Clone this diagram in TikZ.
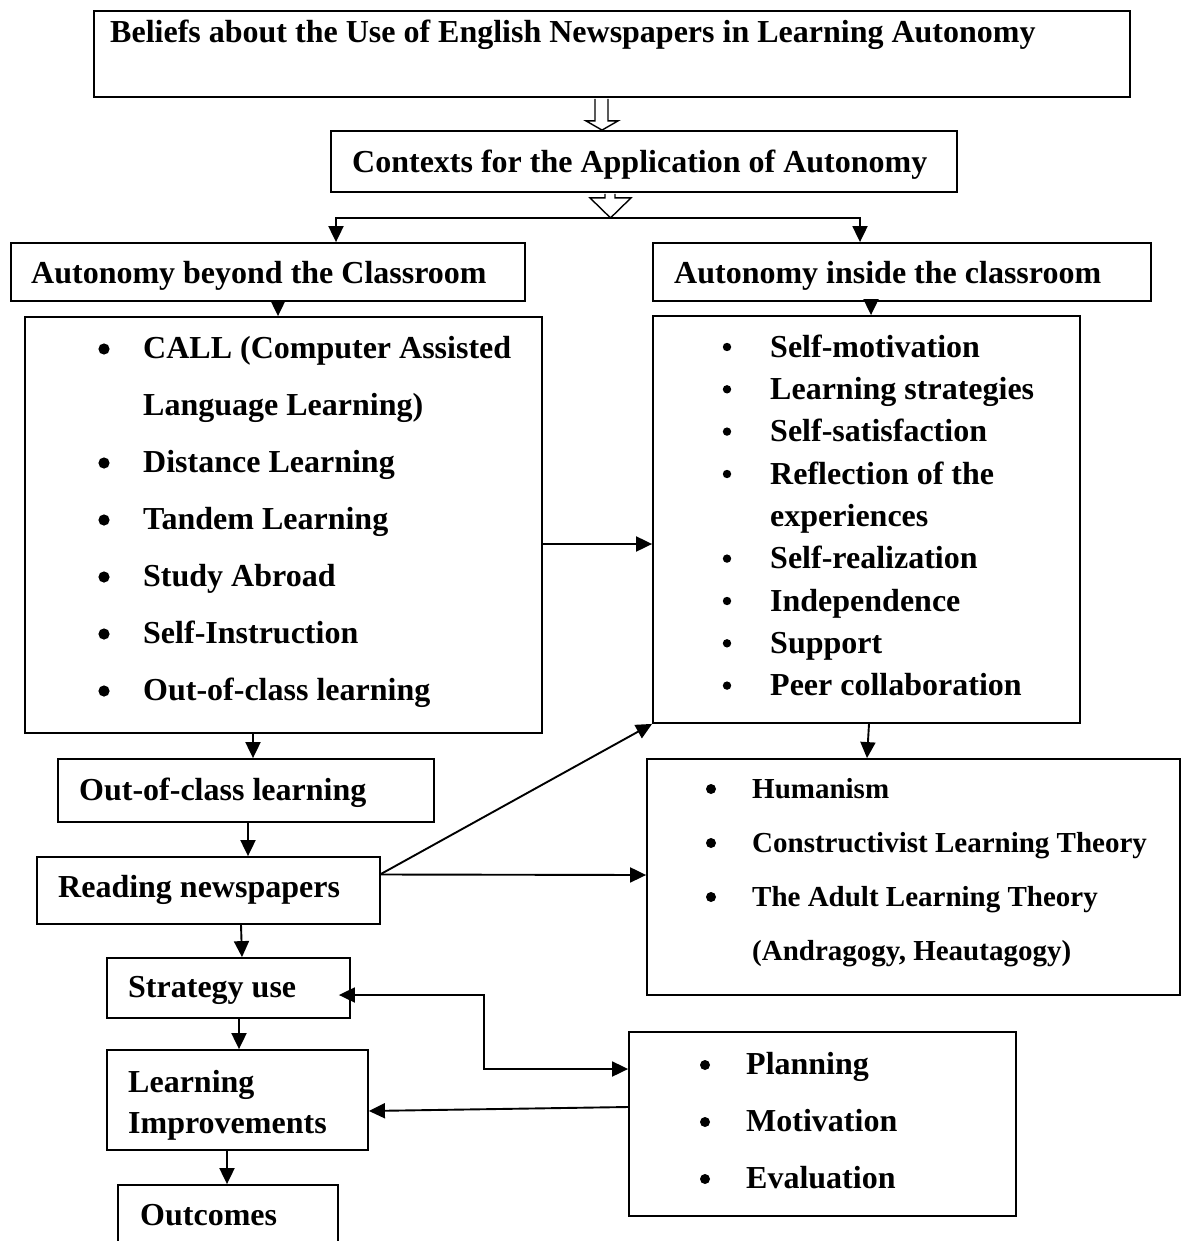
\documentclass[tikz,border=0pt]{standalone}
\usepackage{fontspec}
\setmainfont{Liberation Serif}
\usetikzlibrary{arrows.meta,fit,calc}
\begin{document}
\begin{tikzpicture}[x=1pt,y=-1pt,
  box/.style={draw, line width=1.8pt, inner sep=0pt},
  lbl/.style={anchor=base west, inner sep=0pt, font=\fontsize{32}{38}\selectfont\bfseries},
  sml/.style={anchor=base west, inner sep=0pt, font=\fontsize{29}{35}\selectfont\bfseries},
  arr/.style={line width=1.9pt, -{Triangle[length=16pt,width=15pt]}},
  arrb/.style={line width=1.9pt, {Triangle[length=16pt,width=15pt]}-{Triangle[length=16pt,width=15pt]}},
  hol/.style={draw, line width=1.4pt, fill=white, line join=miter},
  bul/.style={fill=black}
]
\useasboundingbox (0,0) rectangle (1181,1241);
\fill[white] (0,0) rectangle (1181,1241);

% boxes
\node[box, fit={(94,11) (1130,97)}] (top) {};
\node[box, fit={(331,131) (957,192)}] (ctx) {};
\node[box, fit={(11,243) (525,301)}] (lh) {};
\node[box, fit={(653,243) (1151,301)}] (rh) {};
\node[box, fit={(25,317) (542,733)}] (ll) {};
\node[box, fit={(653,316) (1080,723)}] (rl) {};
\node[box, fit={(58,759) (434,822)}] (ooc) {};
\node[box, fit={(37,857) (380,924)}] (rn) {};
\node[box, fit={(647,759) (1180,995)}] (th) {};
\node[box, fit={(107,958) (350,1018)}] (su) {};
\node[box, fit={(107,1050) (368,1150)}] (li) {};
\node[box, fit={(118,1185) (338,1262)}] (oc) {};
\node[box, fit={(629,1032) (1016,1216)}] (pl) {};

% texts
\node[lbl] (t-top) at (110,43) {Beliefs about the Use of English Newspapers in Learning Autonomy};
\node[lbl] (t-ctx) at (352,173) {Contexts for the Application of Autonomy};
\node[lbl] (t-lh) at (31,283) {Autonomy beyond the Classroom};
\node[lbl] (t-rh) at (674,283) {Autonomy inside the classroom};

\foreach \y/\t [count=\i] in {358/{CALL (Computer Assisted}, 415/{Language Learning)}, 472/{Distance Learning}, 529/{Tandem Learning}, 586/{Study Abroad}, 643/{Self-Instruction}, 700/{Out-of-class learning}}{
  \node[lbl] (ll-\i) at (143,\y) {\t};
}
\foreach \y in {358,472,529,586,643,700}{
  \fill[bul] (104,\y-9) circle[radius=5.6];
}

\foreach \y/\t [count=\i] in {357/{Self-motivation}, 399.3/{Learning strategies}, 441.6/{Self-satisfaction}, 484/{Reflection of the}, 526.3/{experiences}, 568.6/{Self-realization}, 611/{Independence}, 653.3/{Support}, 695.6/{Peer collaboration}}{
  \node[lbl] (rl-\i) at (770,\y) {\t};
}
\foreach \y in {357,399.3,441.6,484,568.6,611,653.3,695.6}{
  \fill[bul] (727,\y-10) circle[radius=4.2];
}

\node[lbl] (t-ooc) at (79,800) {Out-of-class learning};
\node[lbl] (t-rn) at (58,897) {Reading newspapers};

\foreach \y/\t [count=\i] in {798/{Humanism}, 852/{Constructivist Learning Theory}, 906/{The Adult Learning Theory}, 960/{(Andragogy, Heautagogy)}}{
  \node[sml] (th-\i) at (752,\y) {\t};
}
\foreach \y in {798,852,906}{
  \fill[bul] (711,\y-9) circle[radius=5];
}

\node[lbl] (t-su) at (128,997) {Strategy use};
\node[lbl] (t-li1) at (128,1092) {Learning};
\node[lbl] (t-li2) at (128,1133) {Improvements};
\node[lbl] (t-oc) at (140,1225) {Outcomes};

\foreach \y/\t [count=\i] in {1074/{Planning}, 1131/{Motivation}, 1188/{Evaluation}}{
  \node[lbl] (pl-\i) at (746,\y) {\t};
  \fill[bul] (705,\y-9) circle[radius=5];
}

% hollow arrows
\draw[hol] ($(top.south)+(-17,1)$) -- ($(top.south)+(-17,23)$) -- ($(top.south)+(-26,23)$)
  -- ($(ctx.north)+(-42,0)$) -- ($(top.south)+(6,23)$) -- ($(top.south)+(-4,23)$) -- ($(top.south)+(-4,1)$);
\draw[arr] ($(ctx.south)+(-33.5,25)$) -| ([xshift=68pt]lh.north);
\draw[arr] ($(ctx.south)+(-33.5,25)$) -| ([xshift=-42pt]rh.north);
\draw[hol] ($(ctx.south)+(-39,1)$) -- ($(ctx.south)+(-39,5)$) -- ($(ctx.south)+(-54,5)$)
  -- ($(ctx.south)+(-33.5,25)$) -- ($(ctx.south)+(-13,5)$) -- ($(ctx.south)+(-29,5)$) -- ($(ctx.south)+(-29,1)$);

% connectors
\draw[arr] ([xshift=10pt]lh.south) -- ([xshift=-5.5pt]ll.north);
\draw[arr] ([xshift=-31pt]rh.south) -- ([xshift=4.5pt]rl.north);
\draw[arr] ($(ll.east)+(0,19)$) -- ($(rl.west)+(0,24.5)$);
\draw[arr] ([xshift=-30.5pt]ll.south) -- ([xshift=7pt]ooc.north);
\draw[arr] ([xshift=2pt]ooc.south) -- ([xshift=39.5pt]rn.north);
\draw[arr] ($(rn.east)+(0,-16.5)$) -- (rl.south west);
\draw[arr] ($(rn.east)+(0,-16)$) -- ($(th.west)+(0,-2)$);
\draw[arr] ([xshift=2.5pt]rl.south) -- ([xshift=-46.5pt]th.north);
\draw[arr] ([xshift=32.5pt]rn.south) -- ([xshift=13.5pt]su.north);
\draw[arr] ([xshift=10.5pt]su.south) -- ([xshift=1.5pt]li.north);
\draw[arr] ([xshift=-10.5pt]li.south) -- ([xshift=-1pt]oc.north);
\draw[arrb] ($(su.east)+(-12,7)$) -- ++(145,0) |- ($(pl.west)+(0,-55)$);
\draw[arr] ($(pl.west)+(0,-17)$) -- ($(li.east)+(0,11)$);
\end{tikzpicture}
\end{document}
